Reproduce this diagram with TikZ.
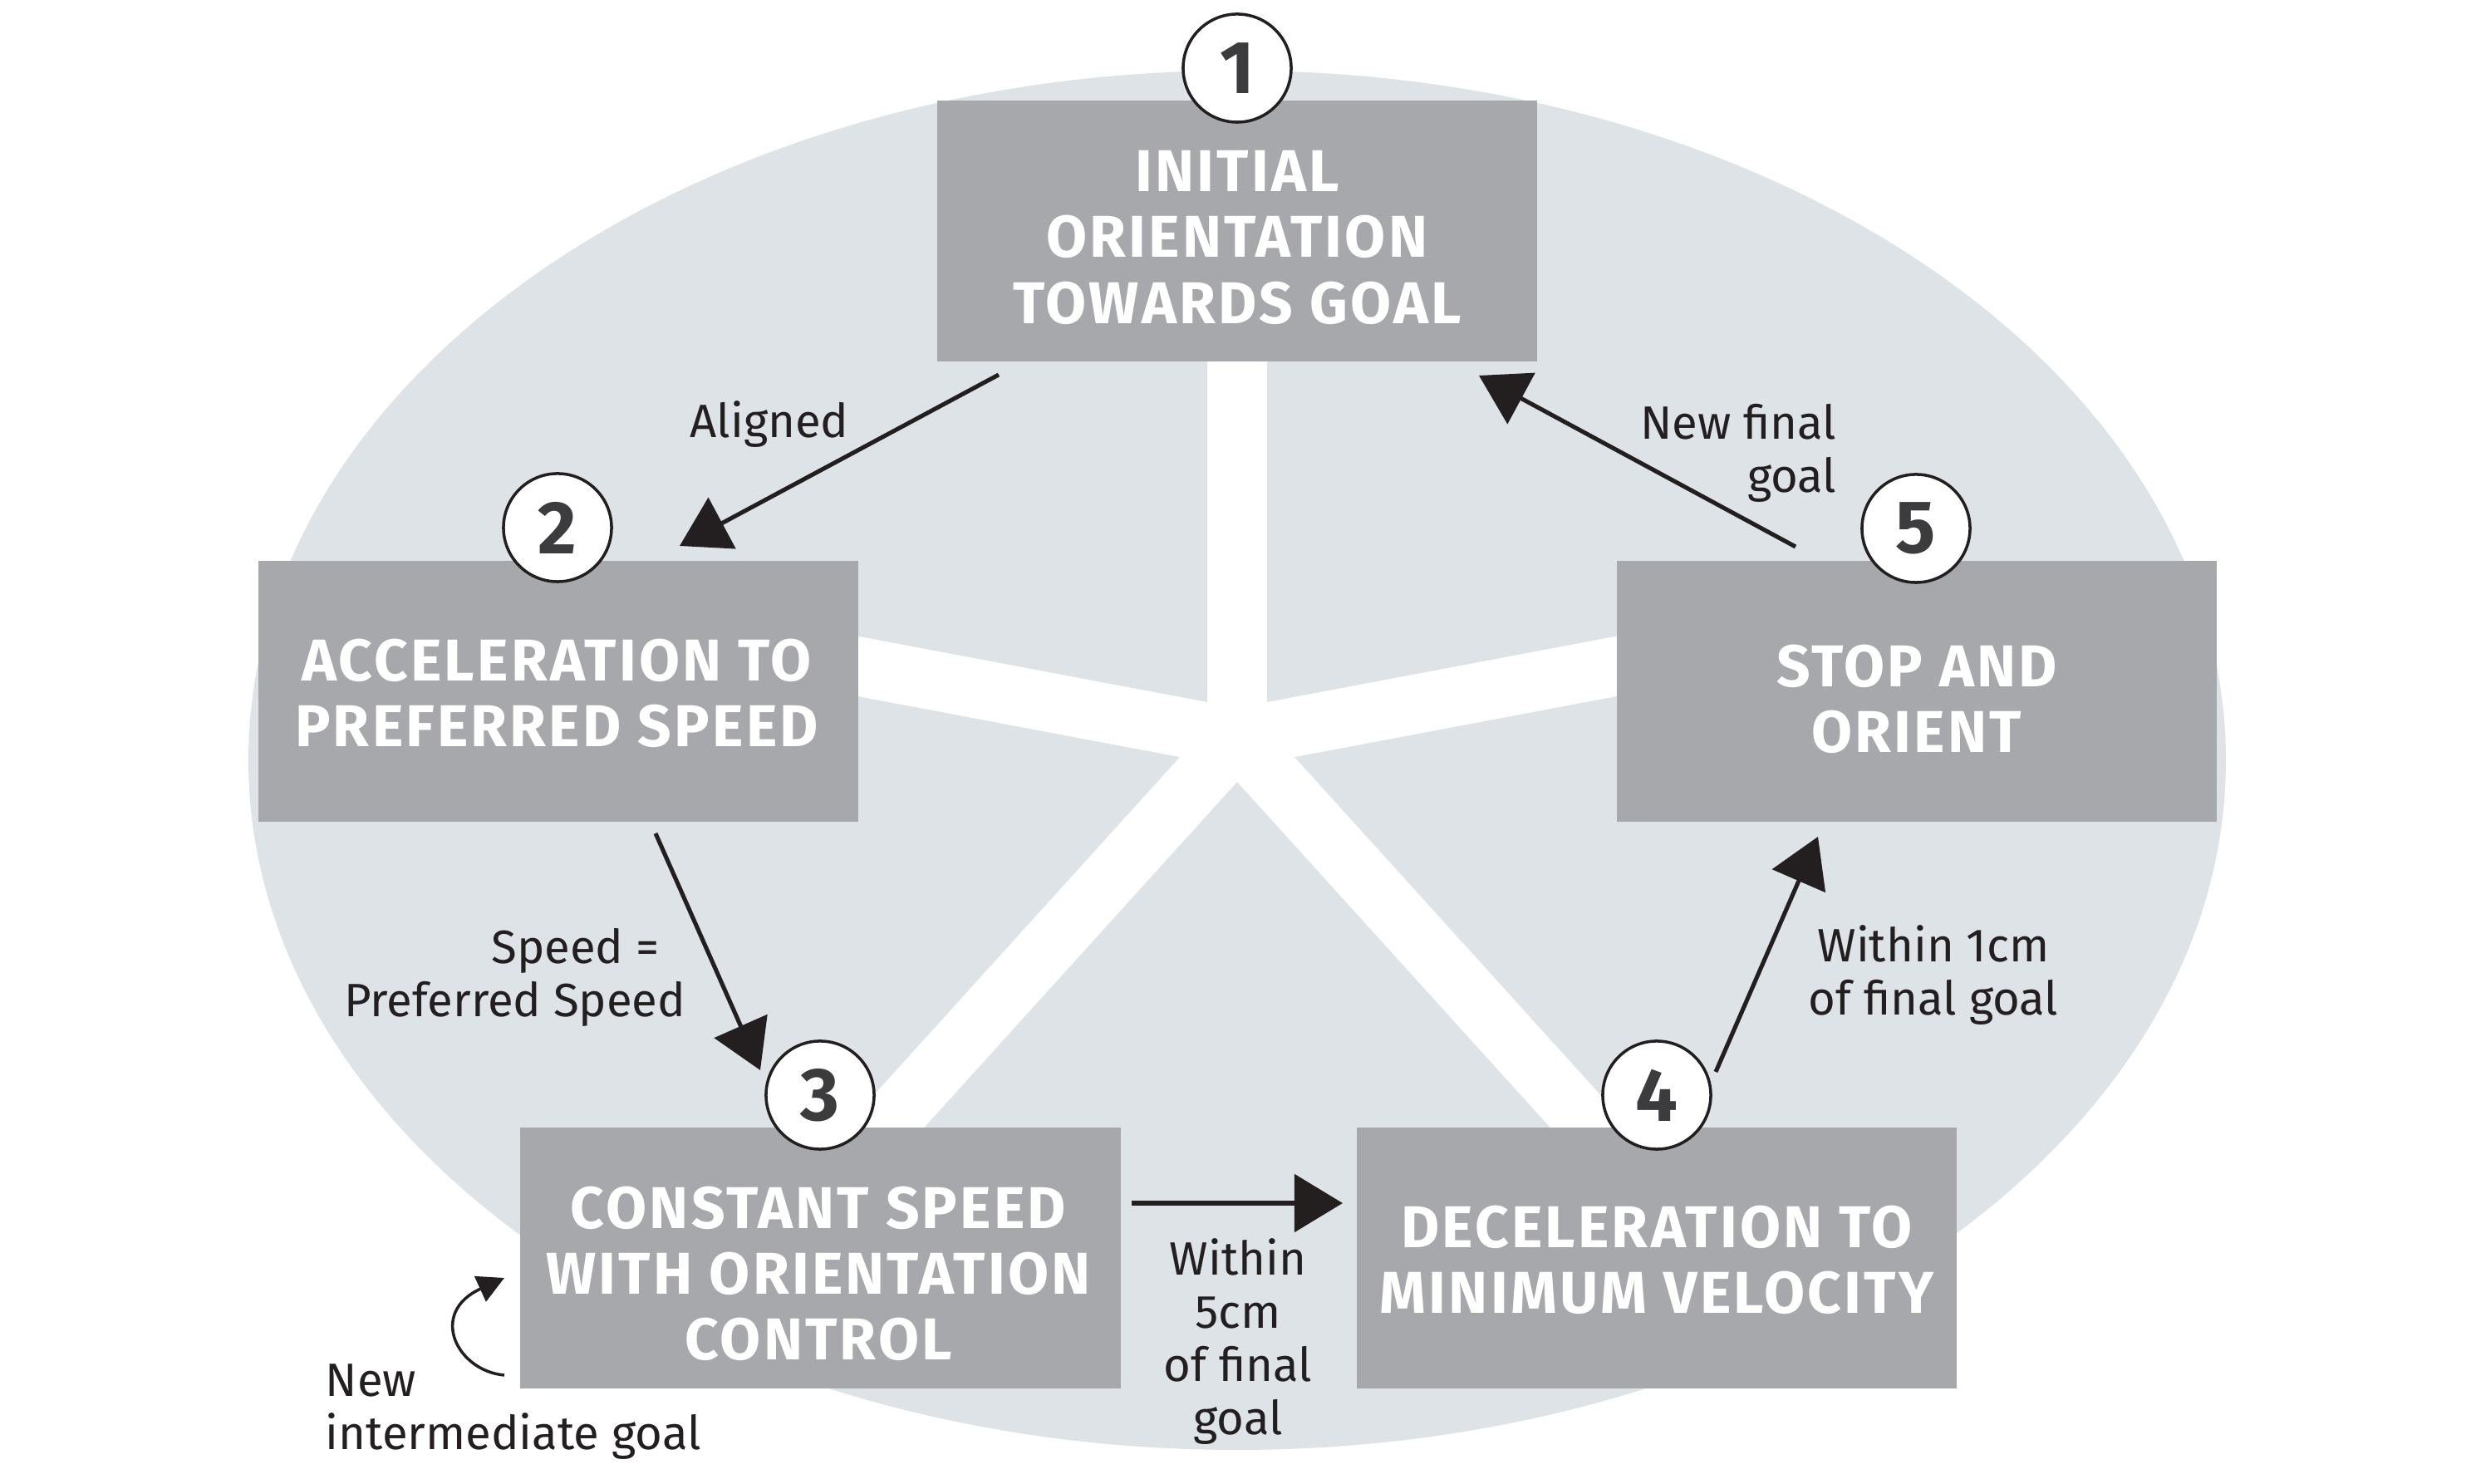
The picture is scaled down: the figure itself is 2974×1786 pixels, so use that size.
\documentclass[tikz,border=0pt]{standalone}
\usepackage{fontspec}
\usetikzlibrary{arrows.meta,calc}
\newfontfamily\boxfont[LetterSpace=4.5]{Fira Sans}
\newfontfamily\lblfont{Fira Sans}
\definecolor{ellcol}{RGB}{222,227,231}
\definecolor{boxcol}{RGB}{167,168,172}
\definecolor{inkcol}{RGB}{35,31,32}
\definecolor{numcol}{RGB}{60,60,62}
\begin{document}
\begin{tikzpicture}[x=0.01cm,y=-0.01cm,
  boxstyle/.style={fill=boxcol, draw=none, minimum width=7.22cm, minimum height=3.14cm, inner sep=0},
  boxtext/.style={text=white, align=center, inner sep=0, font=\boxfont\bfseries\fontsize{20.2}{22.5}\selectfont},
  numstyle/.style={circle, draw=inkcol, line width=1pt, fill=white, minimum size=1.3cm, inner sep=0, text=numcol, font=\lblfont\bfseries\fontsize{25.6}{30}\selectfont},
  lbl/.style={text=inkcol, inner sep=0, font=\lblfont\fontsize{16}{18.2}\selectfont},
  arr/.style={draw=inkcol, line width=1.45pt, -{Triangle[length=5.8mm,width=6.9mm]}},
  spoke/.style={draw=white, line width=7.1mm, line cap=round}
]
\useasboundingbox (0,0) rectangle (2974,1786);
% background ellipse
\fill[ellcol] (1489,915) ellipse [x radius=1190, y radius=830];
% white star
\coordinate (sc) at (1489,888);
\draw[spoke] (sc) -- (1489,300);
\draw[spoke] (sc) -- (800,758);
\draw[spoke] (sc) -- (2178,758);
\draw[spoke] (sc) -- (980,1450);
\draw[spoke] (sc) -- (1998,1450);
% boxes
\node[boxstyle] (b1) at (1489,278) {};
\node[boxstyle] (b2) at (672,832) {};
\node[boxstyle] (b3) at (987.5,1514) {};
\node[boxstyle] (b4) at (1994,1514) {};
\node[boxstyle] (b5) at (2307,832) {};
% box texts
\node[boxtext] (t1) at (1489,286) {INITIAL\\ORIENTATION\\TOWARDS GOAL};
\node[boxtext] (t2) at (670,834) {ACCELERATION TO\\PREFERRED SPEED};
\node[boxtext] (t3) at (985,1533) {CONSTANT SPEED\\WITH ORIENTATION\\CONTROL};
\node[boxtext] (t4) at (1994,1516) {DECELERATION TO\\MINIMUM VELOCITY};
\node[boxtext] (t5) at (2307,841) {STOP AND\\ORIENT};
% number circles
\node[numstyle] (n1) at (1489,82) {1};
\node[numstyle] (n2) at (671,635) {2};
\node[numstyle] (n3) at (987,1318) {3};
\node[numstyle] (n4) at (1994,1318) {4};
\node[numstyle] (n5) at (2306,636) {5};
% arrows
\coordinate (a12s) at (1202,451); \coordinate (a12e) at (818,657);
\coordinate (a23s) at (789,1003); \coordinate (a23e) at (915,1288);
\coordinate (a34s) at (1362,1448); \coordinate (a34e) at (1616,1448);
\coordinate (a45s) at (2065,1290); \coordinate (a45e) at (2188,1007);
\coordinate (a51s) at (2161,658); \coordinate (a51e) at (1780,452);
\draw[arr] (a12s) -- (a12e);
\draw[arr] (a23s) -- (a23e);
\draw[arr] (a34s) -- (a34e);
\draw[arr] (a45s) -- (a45e);
\draw[arr] (a51s) -- (a51e);
% self loop
\coordinate (lps) at (607,1655); \coordinate (lpe) at (607,1538);
\draw[inkcol, line width=1pt, -{Triangle[length=3.2mm,width=3.3mm]}] (lps) .. controls (550,1650) and (515,1580) .. (lpe);
% labels (anchor base = baseline of last line)
\node[lbl, anchor=base] (l12) at (926,527) {Aligned};
\node[lbl, anchor=base east, align=right] (l23) at (826,1224) {Speed =\rule{9pt}{0pt}\\Preferred Speed};
\node[lbl, anchor=base, align=center] (l34) at (1490,1727) {Within\\5cm\\of final\\goal};
\node[lbl, anchor=base, align=center] (l45) at (2327,1222) {Within 1cm\\of final goal};
\node[lbl, anchor=base east, align=right] (l51) at (2211,593) {New final\\goal};
\node[lbl, anchor=base west, align=left] (l33) at (391,1745) {New\\intermediate goal};
\end{tikzpicture}
\end{document}
